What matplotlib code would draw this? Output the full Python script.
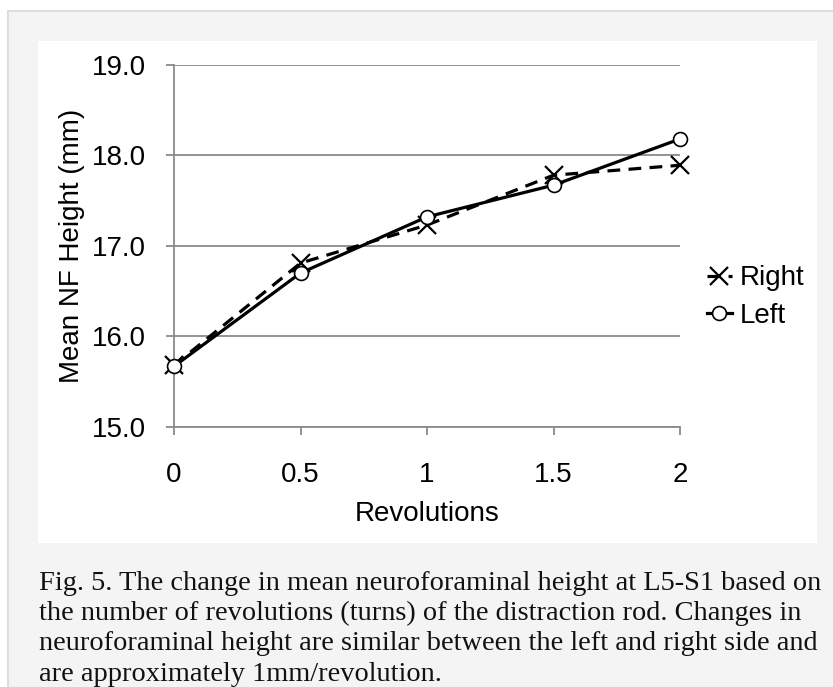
import matplotlib.pyplot as plt
from matplotlib.patches import Rectangle

# data
revolutions = [0, 0.5, 1, 1.5, 2]
right_side = [15.68, 16.81, 17.23, 17.78, 17.89]
left_side = [15.67, 16.70, 17.32, 17.67, 18.18]
y_ticks = [15.0, 16.0, 17.0, 18.0, 19.0]
x_tick_labels = ['0', '0.5', '1', '1.5', '2']

caption = ("Fig. 5. The change in mean neuroforaminal height at L5-S1 based on\n"
           "the number of revolutions (turns) of the distraction rod. Changes in\n"
           "neuroforaminal height are similar between the left and right side and\n"
           "are approximately 1mm/revolution.")

W, H = 833, 687
fig = plt.figure(figsize=(W / 100, H / 100), dpi=100)
fig.patch.set_facecolor('white')

# grey card and white chart panel
fig.patches.append(Rectangle((8 / W, -0.1), 1.2, 1.1 - 11 / H, transform=fig.transFigure,
                             facecolor='#f4f4f4', edgecolor='#dddddd', lw=1.5, zorder=-2))
fig.patches.append(Rectangle((38 / W, 1 - 543 / H), (817 - 38) / W, (543 - 41) / H,
                             transform=fig.transFigure, facecolor='white',
                             edgecolor='none', zorder=-1))

ax = fig.add_axes([174 / W, 1 - 427 / H, (680 - 174) / W, (427 - 64.7) / H])
ax.set_facecolor('none')
ax.set_zorder(1)

gray = '#8a8a8a'
fs = 20

ax.plot(revolutions, right_side, color='black', lw=2.3, ls=(0, (4, 2.6)),
        marker='x', ms=13, mew=1.6, label='Right', zorder=3, clip_on=False)
ax.plot(revolutions, left_side, color='black', lw=2.3, ls='-',
        marker='o', ms=10, mfc='white', mec='black', mew=1.2, label='Left',
        zorder=4, clip_on=False)

ax.set_xlim(0, 2)
ax.set_ylim(15, 19)
ax.set_yticks(y_ticks)
ax.set_yticklabels([f'{v:.1f}' for v in y_ticks], fontsize=fs, family='Liberation Sans')
ax.set_xticks(revolutions)
ax.set_xticklabels(x_tick_labels, fontsize=fs, family='Liberation Sans')
ax.yaxis.grid(True, color=gray, lw=1.3)
ax.set_axisbelow(True)

for s in ['top', 'right']:
    ax.spines[s].set_visible(False)
for s in ['left', 'bottom']:
    ax.spines[s].set_color(gray)
    ax.spines[s].set_linewidth(1.3)
ax.tick_params(axis='both', direction='out', color=gray, width=1.3, length=6)
ax.tick_params(axis='x', pad=19)
ax.tick_params(axis='y', pad=14)

ax.set_ylabel('Mean NF Height (mm)', fontsize=fs, family='Liberation Sans')
ax.yaxis.set_label_coords((72 - 174) / 506, 0.5)
ax.yaxis.label.set_va('center')
ax.set_xlabel('Revolutions', fontsize=fs, family='Liberation Sans')
ax.xaxis.set_label_coords(0.5, (427 - 514) / 362.3)
ax.xaxis.label.set_va('center')

leg = fig.legend(loc='center left', bbox_to_anchor=(693 / W, 1 - 297 / H),
                 frameon=False, handlelength=0.9, prop={'family': 'Liberation Sans', 'size': fs},
                 handletextpad=0.3, labelspacing=0.4, borderpad=0)

fig.text(39 / W, 1 - 571 / H, caption, ha='left', va='top', fontsize=20.4,
         family='Liberation Serif', linespacing=1.27, color='#111111')

fig.savefig('out.png', dpi=100)
